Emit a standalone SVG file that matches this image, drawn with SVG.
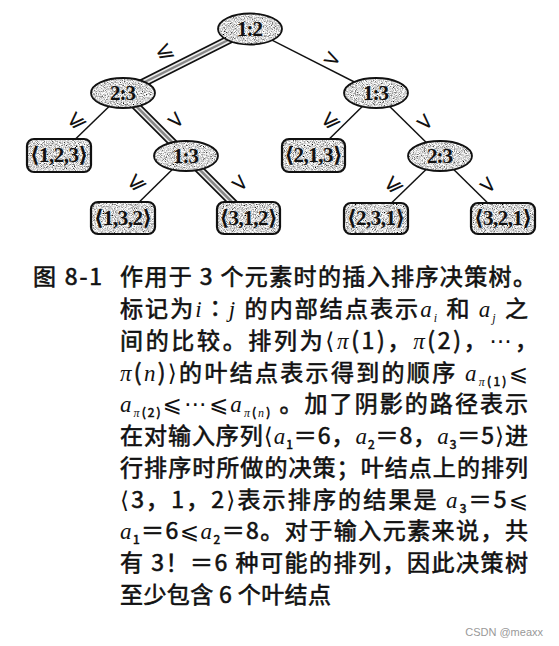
<svg xmlns="http://www.w3.org/2000/svg" width="559" height="646" viewBox="0 0 559 646">
<defs>
<filter id="speck" x="-0.05" y="-0.1" width="1.1" height="1.2">
<feTurbulence type="fractalNoise" baseFrequency="1.1" numOctaves="2" seed="7" result="n"/>
<feColorMatrix in="n" type="matrix" values="2.2 0 0 0 -0.42  2.2 0 0 0 -0.42  2.2 0 0 0 -0.42  0 0 0 0 1" result="g"/>
<feComposite in="g" in2="SourceGraphic" operator="in"/>
</filter>
<style>
.fill{fill:#000;filter:url(#speck)}
.ol{fill:none;stroke:#111;stroke-width:1.8}
.lf{fill:none;stroke:#111;stroke-width:2.2}
.nt{font-family:"Liberation Serif","DejaVu Serif",serif;font-size:21px;font-weight:bold;fill:#111;text-anchor:middle}
.e{stroke:#111;stroke-width:1.5;fill:none}
.sh1{stroke:#111;stroke-width:9;fill:none}
.sh2{stroke:#eee;stroke-width:5.5;fill:none}
.sh3{stroke:#888;stroke-width:2.5;fill:none}
.el{font-family:"DejaVu Sans",sans-serif;font-size:22px;fill:#111;text-anchor:middle}
.cap{font-family:"Noto Sans CJK SC",sans-serif;font-size:23px;fill:#111;stroke:#111;stroke-width:0.6}
.m{font-family:"Liberation Serif",serif;font-style:italic;stroke:none}
.s{font-size:12px}
.le{font-family:"DejaVu Sans","Noto Sans CJK SC",sans-serif;stroke:none}
.wm{font-family:"Liberation Sans",Arial,sans-serif;font-size:11px;fill:#999;text-anchor:end}
</style>
</defs>
<g id="connectors">
<line class="e" x1="250" y1="29" x2="376" y2="93"/>
<line class="e" x1="123" y1="93" x2="59" y2="155"/>
<line class="e" x1="376" y1="93" x2="313" y2="155"/>
<line class="e" x1="376" y1="93" x2="440" y2="156"/>
<line class="e" x1="186" y1="156" x2="123" y2="218"/>
<line class="e" x1="440" y1="156" x2="376" y2="218"/>
<line class="e" x1="440" y1="156" x2="503" y2="218"/>
<polyline class="sh1" points="250,29 123,93 186,156 248,218"/>
<polyline class="sh2" points="250,29 123,93 186,156 248,218"/>
<polyline class="sh3" points="250,29 123,93 186,156 248,218"/>
<text class="el" transform="translate(167,57) rotate(-27)">⩽</text>
<text class="el" transform="translate(329,65) rotate(27)">&gt;</text>
<text class="el" transform="translate(80,125) rotate(-45)">⩽</text>
<text class="el" transform="translate(171,125) rotate(45)">&gt;</text>
<text class="el" transform="translate(334,125) rotate(-45)">⩽</text>
<text class="el" transform="translate(420,127) rotate(45)">&gt;</text>
<text class="el" transform="translate(140,187) rotate(-45)">⩽</text>
<text class="el" transform="translate(235,188) rotate(45)">&gt;</text>
<text class="el" transform="translate(397,189) rotate(-45)">⩽</text>
<text class="el" transform="translate(483,190) rotate(45)">&gt;</text>
</g>
<g id="n12"><ellipse class="fill" cx="250" cy="29" rx="32" ry="15.5"/><ellipse class="ol" cx="250" cy="29" rx="32" ry="15.5"/><text class="nt" x="250" y="36" textLength="26">1:2</text></g>
<g id="n23a"><ellipse class="fill" cx="123" cy="93" rx="32" ry="15"/><ellipse class="ol" cx="123" cy="93" rx="32" ry="15"/><text class="nt" x="123" y="100" textLength="26">2:3</text></g>
<g id="n13a"><ellipse class="fill" cx="376" cy="93" rx="32" ry="15"/><ellipse class="ol" cx="376" cy="93" rx="32" ry="15"/><text class="nt" x="376" y="100" textLength="26">1:3</text></g>
<g id="n13b"><ellipse class="fill" cx="186" cy="156" rx="32" ry="15"/><ellipse class="ol" cx="186" cy="156" rx="32" ry="15"/><text class="nt" x="186" y="163" textLength="26">1:3</text></g>
<g id="n23b"><ellipse class="fill" cx="440" cy="156" rx="32" ry="15"/><ellipse class="ol" cx="440" cy="156" rx="32" ry="15"/><text class="nt" x="440" y="163" textLength="26">2:3</text></g>
<g id="l123"><rect class="fill" x="27" y="139" width="64" height="33" rx="7"/><rect class="lf" x="27" y="139" width="64" height="33" rx="7"/><text class="nt" x="59" y="162" textLength="58">⟨1,2,3⟩</text></g>
<g id="l132"><rect class="fill" x="91" y="202" width="64" height="32" rx="7"/><rect class="lf" x="91" y="202" width="64" height="32" rx="7"/><text class="nt" x="123" y="225" textLength="58">⟨1,3,2⟩</text></g>
<g id="l312"><rect class="fill" x="217" y="202" width="63" height="32" rx="7"/><rect class="lf" x="217" y="202" width="63" height="32" rx="7"/><text class="nt" x="248.5" y="225" textLength="58">⟨3,1,2⟩</text></g>
<g id="l213"><rect class="fill" x="282" y="139" width="63" height="33" rx="7"/><rect class="lf" x="282" y="139" width="63" height="33" rx="7"/><text class="nt" x="313.5" y="162" textLength="58">⟨2,1,3⟩</text></g>
<g id="l231"><rect class="fill" x="344" y="203" width="64" height="31" rx="7"/><rect class="lf" x="344" y="203" width="64" height="31" rx="7"/><text class="nt" x="376" y="225" textLength="58">⟨2,3,1⟩</text></g>
<g id="l321"><rect class="fill" x="471" y="203" width="64" height="31" rx="7"/><rect class="lf" x="471" y="203" width="64" height="31" rx="7"/><text class="nt" x="503" y="225" textLength="58">⟨3,2,1⟩</text></g>
<g id="caption" class="cap">
<text x="33" y="285" textLength="69">图 8-1</text>
<text x="120" y="285" textLength="416">作用于 3 个元素时的插入排序决策树。</text>
<text x="120" y="317" textLength="408">标记为<tspan class="m">i</tspan>∶<tspan class="m">j</tspan> 的内部结点表示<tspan class="m">a</tspan><tspan class="m s" dy="5">i</tspan><tspan dy="-5"> 和 </tspan><tspan class="m">a</tspan><tspan class="m s" dy="5">j</tspan><tspan dy="-5"> 之</tspan></text>
<text x="120" y="349" textLength="418">间的比较。排列为<tspan class="le">⟨</tspan><tspan class="m">π</tspan>(1)，<tspan class="m">π</tspan>(2)，<tspan class="le">⋯</tspan>，</text>
<text x="120" y="381" textLength="408"><tspan class="m">π</tspan>(<tspan class="m">n</tspan>)<tspan class="le">⟩</tspan>的叶结点表示得到的顺序 <tspan class="m">a</tspan><tspan class="s" dy="5"><tspan class="m">π</tspan>(1)</tspan><tspan class="le" dy="-5">⩽</tspan></text>
<text x="120" y="412" textLength="408"><tspan class="m">a</tspan><tspan class="s" dy="5"><tspan class="m">π</tspan>(2)</tspan><tspan class="le" dy="-5">⩽⋯⩽</tspan><tspan class="m">a</tspan><tspan class="s" dy="5"><tspan class="m">π</tspan>(<tspan class="m">n</tspan>)</tspan><tspan dy="-5"> 。加了阴影的路径表示</tspan></text>
<text x="120" y="444" textLength="408">在对输入序列<tspan class="le">⟨</tspan><tspan class="m">a</tspan><tspan class="s" dy="5">1</tspan><tspan dy="-5">＝6，</tspan><tspan class="m">a</tspan><tspan class="s" dy="5">2</tspan><tspan dy="-5">＝8，</tspan><tspan class="m">a</tspan><tspan class="s" dy="5">3</tspan><tspan dy="-5">＝5</tspan><tspan class="le">⟩</tspan>进</text>
<text x="120" y="476" textLength="408">行排序时所做的决策；叶结点上的排列</text>
<text x="120" y="508" textLength="408"><tspan class="le">⟨</tspan>3，1，2<tspan class="le">⟩</tspan>表示排序的结果是 <tspan class="m">a</tspan><tspan class="s" dy="5">3</tspan><tspan dy="-5">＝5</tspan><tspan class="le">⩽</tspan></text>
<text x="120" y="539" textLength="408"><tspan class="m">a</tspan><tspan class="s" dy="5">1</tspan><tspan dy="-5">＝6</tspan><tspan class="le">⩽</tspan><tspan class="m">a</tspan><tspan class="s" dy="5">2</tspan><tspan dy="-5">＝8。对于输入元素来说，共</tspan></text>
<text x="120" y="571" textLength="408">有 3！＝6 种可能的排列，因此决策树</text>
<text x="120" y="603" textLength="211">至少包含 6 个叶结点</text>
</g>
<text class="wm" x="543" y="636">CSDN @meaxx</text>
</svg>
